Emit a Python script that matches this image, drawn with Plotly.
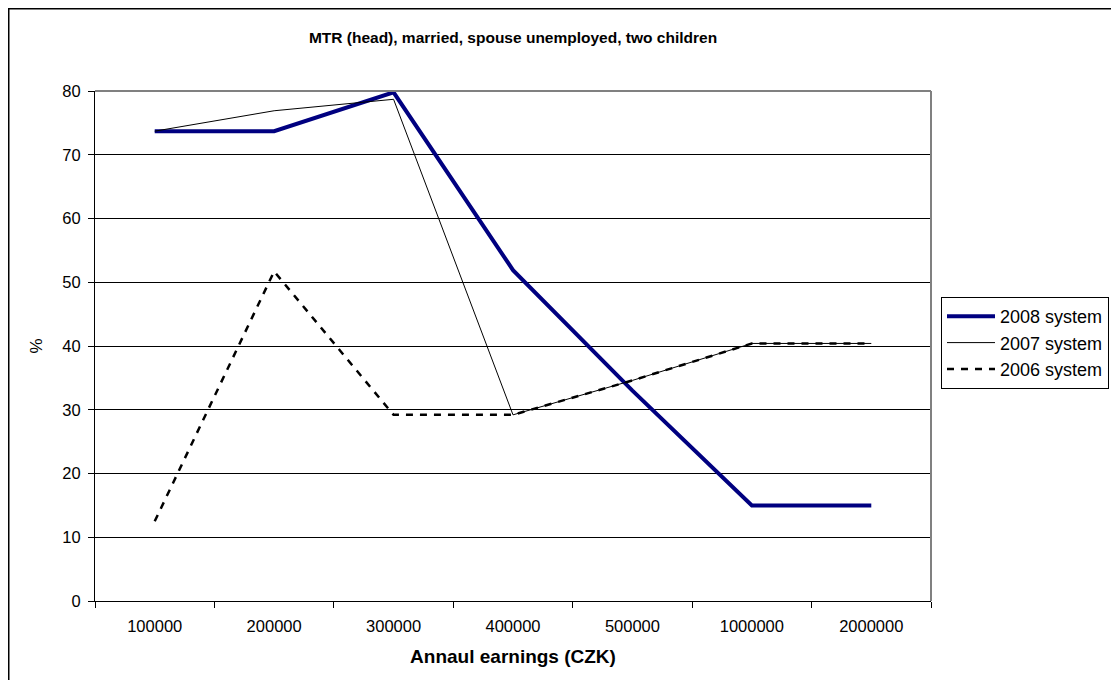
import plotly.graph_objects as go

categories = ["100000", "200000", "300000", "400000", "500000", "1000000", "2000000"]
sys2008 = [73.7, 73.7, 79.8, 51.9, 33.0, 15.0, 15.0]
sys2007 = [73.7, 76.9, 78.7, 29.2, 34.6, 40.4, 40.4]
sys2006 = [12.5, 51.7, 29.2, 29.2, 34.6, 40.4, 40.4]

FONT = "Liberation Sans, Arial, sans-serif"

fig = go.Figure()
fig.add_trace(go.Scatter(x=categories, y=sys2008, mode="lines", name="2008 system",
                         line=dict(color="#000080", width=4)))
fig.add_trace(go.Scatter(x=categories, y=sys2007, mode="lines", name="2007 system",
                         line=dict(color="black", width=1)))
fig.add_trace(go.Scatter(x=categories, y=sys2006, mode="lines", name="2006 system",
                         line=dict(color="black", width=2.5, dash="7px,7px")))

# page body has an 8px margin: figure coords = screen coords - 8
OFF = 8
L, R, T, B = 95 - OFF, 931 - OFF, 91 - OFF, 601 - OFF
W, H = 1119, 680

def px(x):
    return (x - OFF - L) / (R - L)

def py(y):
    return (B - (y - OFF)) / (B - T)

fig.update_layout(
    width=W, height=H,
    margin=dict(l=L, r=W - R, t=T, b=H - B, pad=0),
    paper_bgcolor="white", plot_bgcolor="white",
    font=dict(family=FONT, size=16, color="black"),
    title=dict(text="<b>MTR (head), married, spouse unemployed, two children</b>",
               x=px(513), xref="paper", xanchor="center", y=1 - (38 - OFF) / H, yanchor="middle",
               font=dict(family=FONT, size=15.5, color="black")),
    xaxis=dict(
        type="category", showgrid=False, showline=True, linecolor="black", linewidth=1,
        ticks="outside", ticklen=6, tickcolor="black", tickson="boundaries",
        mirror=False, range=[-0.5, 6.5], ticklabelstandoff=10,
        title=dict(text="<b>Annaul earnings (CZK)</b>", font=dict(family=FONT, size=19), standoff=15),
        tickfont=dict(family=FONT, size=16.5),
    ),
    yaxis=dict(
        range=[0, 80], dtick=10, showgrid=True, gridcolor="black", gridwidth=1,
        showline=True, linecolor="black", linewidth=1, ticks="outside", ticklen=6,
        tickcolor="black", zeroline=False, ticklabelstandoff=4,
        title=dict(text="%", font=dict(family=FONT, size=17), standoff=15),
        tickfont=dict(family=FONT, size=16.5),
    ),
    legend=dict(x=px(941), xanchor="left", y=py(343), yanchor="middle",
                bordercolor="black", borderwidth=1, bgcolor="white",
                font=dict(family=FONT, size=18), tracegroupgap=0, itemwidth=48),
    showlegend=True,
)

# gray plot border (top and right)
fig.add_shape(type="line", xref="paper", yref="paper", x0=0, x1=1, y0=1, y1=1,
              line=dict(color="#808080", width=2))
fig.add_shape(type="line", xref="paper", yref="paper", x0=1, x1=1, y0=0, y1=1,
              line=dict(color="#808080", width=2))
# outer chart border (figure edge)
fig.add_shape(type="rect", xref="paper", yref="paper",
              x0=px(8.75), x1=px(1200), y0=py(760), y1=py(8.75),
              line=dict(color="black", width=1.5), fillcolor="rgba(0,0,0,0)", layer="below")

fig.write_html("out.html")
